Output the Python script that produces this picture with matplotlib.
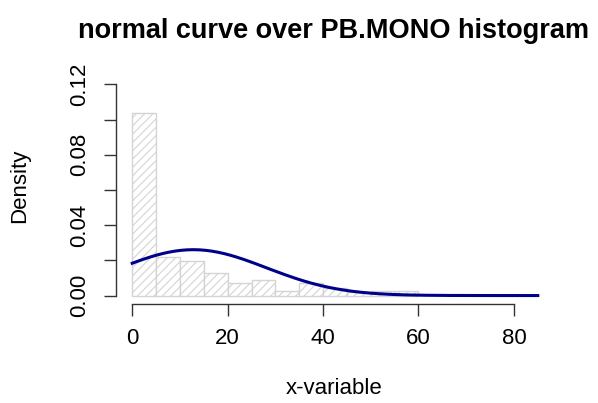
import numpy as np
import matplotlib
matplotlib.use("Agg")
import matplotlib.pyplot as plt

# histogram of PB.MONO (density scale), bins of width 5
bin_edges = [0, 5, 10, 15, 20, 25, 30, 35, 40, 45, 50, 55, 60]
densities = [0.104, 0.022, 0.0194, 0.0129, 0.0070, 0.0086, 0.0026, 0.0074,
             0.0043, 0.0020, 0.0025, 0.0025]

# normal curve parameters
curve_mean = 12.8
curve_sd = 15.3
curve_range = [0, 85]

x_ticks = [0, 20, 40, 60, 80]
y_ticks = [0.00, 0.02, 0.04, 0.06, 0.08, 0.10, 0.12]
y_ticklabels = ["0.00", "", "0.04", "", "0.08", "", "0.12"]

plt.rcParams['font.family'] = ['Liberation Sans', 'DejaVu Sans']
plt.rcParams['hatch.linewidth'] = 0.8

fig = plt.figure(figsize=(5.98, 4.03), dpi=100)
ax = fig.add_axes([116 / 598, 1 - 304 / 403, 438 / 598, 228 / 403])

lefts = np.array(bin_edges[:-1])
widths = np.diff(bin_edges)
ax.bar(lefts, densities, width=widths, align='edge', color='white',
       edgecolor='#d4d4d4', hatch='////', linewidth=1.0)

xs = np.linspace(curve_range[0], curve_range[1], 200)
ys = np.exp(-(xs - curve_mean) ** 2 / (2 * curve_sd ** 2)) / (curve_sd * np.sqrt(2 * np.pi))
ax.plot(xs, ys, color='#00008B', linewidth=2.2)

ax.set_xlim(-3.4, 88.4)
ax.set_ylim(-0.0048, 0.1248)
for s in ['top', 'right']:
    ax.spines[s].set_visible(False)
ax.spines['left'].set_bounds(0, 0.12)
ax.spines['bottom'].set_bounds(0, 80)
for s in ['left', 'bottom']:
    ax.spines[s].set_color('#333333')
    ax.spines[s].set_linewidth(1.0)

ax.set_xticks(x_ticks)
ax.set_yticks(y_ticks)
ax.set_yticklabels(y_ticklabels, rotation=90, va='center')
ax.tick_params(axis='both', length=8.5, width=1.0, color='#333333',
               labelsize=16)
ax.tick_params(axis='x', pad=9)
ax.tick_params(axis='y', pad=10)

fig.text(334 / 598, 1 - 389 / 403, 'x-variable', ha='center', va='center', fontsize=16)
fig.text(20 / 598, 1 - 186 / 403, 'Density', ha='center', va='center',
         rotation=90, fontsize=16)
fig.text(334 / 598, 1 - 31 / 403, 'normal curve over PB.MONO histogram', ha='center',
         va='center', fontsize=19.5, fontweight='bold')

fig.savefig('out.png', dpi=100)
